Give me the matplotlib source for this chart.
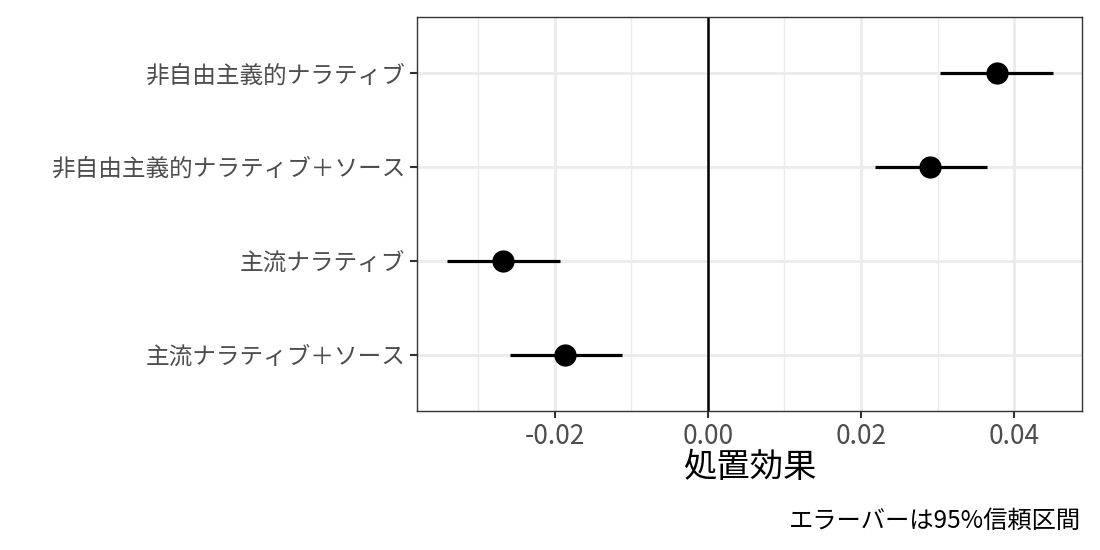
import matplotlib.pyplot as plt
from matplotlib.ticker import MultipleLocator

plt.rcParams['font.family'] = ['Noto Sans CJK JP', 'DejaVu Sans']

labels = ["主流ナラティブ＋ソース", "主流ナラティブ", "非自由主義的ナラティブ＋ソース", "非自由主義的ナラティブ"]
estimate = [-0.0186, -0.0268, 0.0290, 0.0378]
ci_low = [-0.0258, -0.0341, 0.0218, 0.0303]
ci_high = [-0.0112, -0.0193, 0.0365, 0.0451]

fig = plt.figure(figsize=(11, 5.5), dpi=100)
ax = fig.add_axes([0.379, 0.253, 0.605, 0.716])

ypos = list(range(1, len(labels) + 1))
ax.hlines(ypos, ci_low, ci_high, color="black", linewidth=2.3, zorder=3)
ax.plot(estimate, ypos, "o", color="black", markersize=15, zorder=4)
ax.axvline(0, color="black", linewidth=1.8, zorder=2)

ax.set_xlim(-0.038, 0.0489)
ax.set_ylim(0.4, 4.6)
ax.xaxis.set_minor_locator(MultipleLocator(0.01))
ax.set_xticks([-0.02, 0.0, 0.02, 0.04])
ax.set_xticklabels(["-0.02", "0.00", "0.02", "0.04"], fontsize=19)
ax.set_yticks(ypos)
ax.set_yticklabels(labels, fontsize=17)

ax.grid(which="major", color="#EBEBEB", linewidth=2.0, zorder=0)
ax.grid(which="minor", axis="x", color="#EBEBEB", linewidth=1.0, zorder=0)
ax.set_axisbelow(True)

for s in ax.spines.values():
    s.set_color("#333333")
    s.set_linewidth(1.0)
ax.tick_params(axis="both", which="major", colors="#333333", labelcolor="#4D4D4D",
               length=5, width=1.5)
ax.tick_params(axis="x", which="minor", length=0)

ax.set_xlabel("処置効果", fontsize=24, labelpad=0)
fig.text(0.983, 0.03, "エラーバーは95%信頼区間", ha="right", va="bottom", fontsize=17.5)

fig.savefig("out.png", dpi=100)
